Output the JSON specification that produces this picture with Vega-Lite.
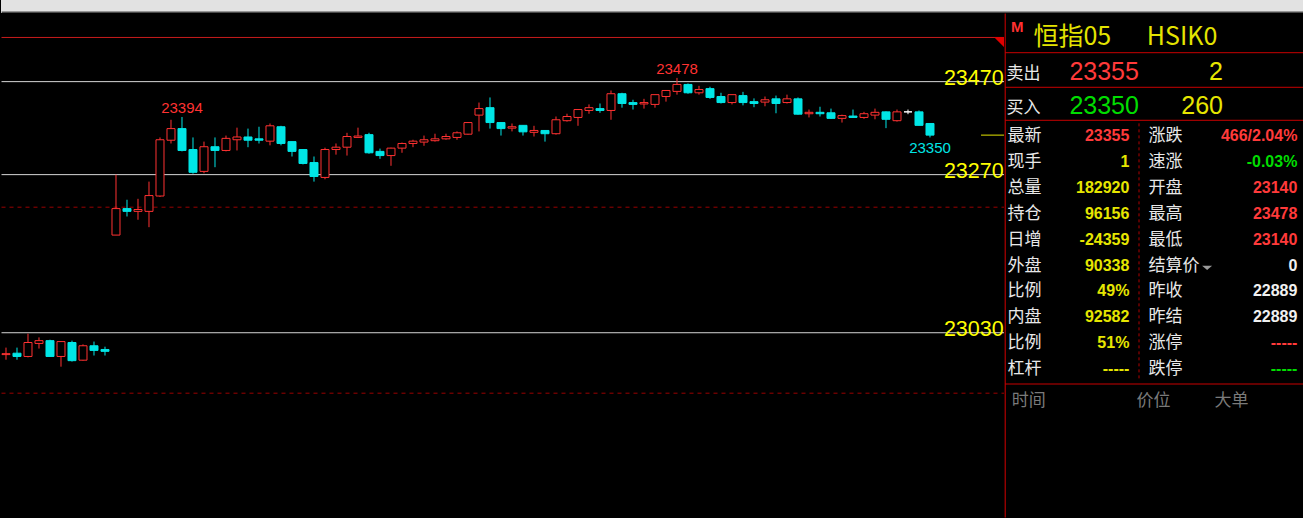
{
  "$schema": "https://vega.github.io/schema/vega-lite/v6.json",
  "background": "#000000",
  "padding": 0,
  "bounds": "flush",
  "spacing": 0,
  "config": {"view": {"stroke": null}, "concat": {"spacing": 0}},
  "datasets": {
    "candles": [
      {"i":0,"open":22883,"high":22898,"low":22872,"close":22885},
      {"i":1,"open":22886,"high":22898,"low":22872,"close":22879},
      {"i":2,"open":22879,"high":22928,"low":22877,"close":22909},
      {"i":3,"open":22907,"high":22920,"low":22896,"close":22913},
      {"i":4,"open":22913,"high":22915,"low":22878,"close":22879},
      {"i":5,"open":22879,"high":22912,"low":22857,"close":22911},
      {"i":6,"open":22909,"high":22913,"low":22868,"close":22870},
      {"i":7,"open":22871,"high":22905,"low":22870,"close":22902},
      {"i":8,"open":22902,"high":22911,"low":22881,"close":22892},
      {"i":9,"open":22894,"high":22900,"low":22881,"close":22890},
      {"i":10,"open":23140,"high":23270,"low":23140,"close":23197},
      {"i":11,"open":23197,"high":23216,"low":23180,"close":23191},
      {"i":12,"open":23191,"high":23218,"low":23173,"close":23195},
      {"i":13,"open":23191,"high":23255,"low":23157,"close":23225},
      {"i":14,"open":23224,"high":23350,"low":23222,"close":23345},
      {"i":15,"open":23344,"high":23388,"low":23337,"close":23369},
      {"i":16,"open":23369,"high":23394,"low":23320,"close":23322},
      {"i":17,"open":23324,"high":23350,"low":23272,"close":23275},
      {"i":18,"open":23277,"high":23341,"low":23273,"close":23330},
      {"i":19,"open":23330,"high":23350,"low":23286,"close":23322},
      {"i":20,"open":23322,"high":23354,"low":23320,"close":23348},
      {"i":21,"open":23345,"high":23371,"low":23322,"close":23351},
      {"i":22,"open":23351,"high":23369,"low":23329,"close":23344},
      {"i":23,"open":23347,"high":23373,"low":23337,"close":23344},
      {"i":24,"open":23342,"high":23380,"low":23333,"close":23375},
      {"i":25,"open":23373,"high":23375,"low":23333,"close":23337},
      {"i":26,"open":23341,"high":23341,"low":23309,"close":23320},
      {"i":27,"open":23324,"high":23324,"low":23292,"close":23294},
      {"i":28,"open":23296,"high":23309,"low":23255,"close":23266},
      {"i":29,"open":23264,"high":23328,"low":23260,"close":23324},
      {"i":30,"open":23324,"high":23337,"low":23313,"close":23329},
      {"i":31,"open":23329,"high":23360,"low":23311,"close":23352},
      {"i":32,"open":23350,"high":23371,"low":23350,"close":23353},
      {"i":33,"open":23356,"high":23360,"low":23315,"close":23317},
      {"i":34,"open":23320,"high":23326,"low":23304,"close":23311},
      {"i":35,"open":23311,"high":23328,"low":23289,"close":23327},
      {"i":36,"open":23327,"high":23339,"low":23317,"close":23337},
      {"i":37,"open":23337,"high":23345,"low":23329,"close":23342},
      {"i":38,"open":23340,"high":23354,"low":23332,"close":23345},
      {"i":39,"open":23343,"high":23358,"low":23341,"close":23347},
      {"i":40,"open":23347,"high":23358,"low":23345,"close":23352},
      {"i":41,"open":23350,"high":23363,"low":23345,"close":23360},
      {"i":42,"open":23357,"high":23383,"low":23356,"close":23382},
      {"i":43,"open":23398,"high":23425,"low":23363,"close":23412},
      {"i":44,"open":23414,"high":23436,"low":23369,"close":23382},
      {"i":45,"open":23382,"high":23382,"low":23354,"close":23369},
      {"i":46,"open":23370,"high":23380,"low":23363,"close":23373},
      {"i":47,"open":23376,"high":23376,"low":23354,"close":23362},
      {"i":48,"open":23361,"high":23375,"low":23352,"close":23365},
      {"i":49,"open":23365,"high":23365,"low":23341,"close":23358},
      {"i":50,"open":23358,"high":23395,"low":23356,"close":23388},
      {"i":51,"open":23386,"high":23401,"low":23384,"close":23395},
      {"i":52,"open":23393,"high":23410,"low":23375,"close":23410},
      {"i":53,"open":23408,"high":23421,"low":23401,"close":23414},
      {"i":54,"open":23412,"high":23423,"low":23403,"close":23408},
      {"i":55,"open":23408,"high":23451,"low":23388,"close":23444},
      {"i":56,"open":23444,"high":23446,"low":23414,"close":23423},
      {"i":57,"open":23425,"high":23431,"low":23410,"close":23421},
      {"i":58,"open":23422,"high":23433,"low":23412,"close":23425},
      {"i":59,"open":23421,"high":23442,"low":23414,"close":23442},
      {"i":60,"open":23438,"high":23451,"low":23427,"close":23451},
      {"i":61,"open":23449,"high":23478,"low":23442,"close":23464},
      {"i":62,"open":23464,"high":23466,"low":23444,"close":23446},
      {"i":63,"open":23446,"high":23461,"low":23442,"close":23453},
      {"i":64,"open":23455,"high":23459,"low":23433,"close":23436},
      {"i":65,"open":23438,"high":23446,"low":23423,"close":23425},
      {"i":66,"open":23425,"high":23442,"low":23421,"close":23442},
      {"i":67,"open":23440,"high":23448,"low":23419,"close":23425},
      {"i":68,"open":23427,"high":23434,"low":23415,"close":23423},
      {"i":69,"open":23426,"high":23438,"low":23417,"close":23431},
      {"i":70,"open":23433,"high":23440,"low":23402,"close":23423},
      {"i":71,"open":23425,"high":23442,"low":23423,"close":23433},
      {"i":72,"open":23433,"high":23436,"low":23399,"close":23400},
      {"i":73,"open":23401,"high":23410,"low":23393,"close":23404},
      {"i":74,"open":23404,"high":23416,"low":23395,"close":23401},
      {"i":75,"open":23403,"high":23412,"low":23390,"close":23391},
      {"i":76,"open":23391,"high":23399,"low":23382,"close":23397},
      {"i":77,"open":23396,"high":23410,"low":23393,"close":23393},
      {"i":78,"open":23393,"high":23405,"low":23390,"close":23401},
      {"i":79,"open":23398,"high":23412,"low":23389,"close":23404},
      {"i":80,"open":23405,"high":23406,"low":23370,"close":23389},
      {"i":81,"open":23386,"high":23410,"low":23384,"close":23405},
      {"i":82,"open":23405,"high":23410,"low":23400,"close":23405},
      {"i":83,"open":23405,"high":23408,"low":23376,"close":23376},
      {"i":84,"open":23380,"high":23380,"low":23350,"close":23355}
    ],
    "quote": [
      {"row":0,"lLabel":"最新","lValue":"23355","lKind":"up","rLabel":"涨跌","rValue":"466/2.04%","rKind":"up"},
      {"row":1,"lLabel":"现手","lValue":"1","lKind":"qty","rLabel":"速涨","rValue":"-0.03%","rKind":"down"},
      {"row":2,"lLabel":"总量","lValue":"182920","lKind":"qty","rLabel":"开盘","rValue":"23140","rKind":"up"},
      {"row":3,"lLabel":"持仓","lValue":"96156","lKind":"qty","rLabel":"最高","rValue":"23478","rKind":"up"},
      {"row":4,"lLabel":"日增","lValue":"-24359","lKind":"qty","rLabel":"最低","rValue":"23140","rKind":"up"},
      {"row":5,"lLabel":"外盘","lValue":"90338","lKind":"qty","rLabel":"结算价","rValue":"0","rKind":"flat"},
      {"row":6,"lLabel":"比例","lValue":"49%","lKind":"qty","rLabel":"昨收","rValue":"22889","rKind":"flat"},
      {"row":7,"lLabel":"内盘","lValue":"92582","lKind":"qty","rLabel":"昨结","rValue":"22889","rKind":"flat"},
      {"row":8,"lLabel":"比例","lValue":"51%","lKind":"qty","rLabel":"涨停","rValue":"-----","rKind":"up"},
      {"row":9,"lLabel":"杠杆","lValue":"-----","lKind":"qty","rLabel":"跌停","rValue":"-----","rKind":"down"}
    ]
  },
  "vconcat": [
    {
      "width": 1303,
      "height": 13,
      "view": {"fill": "#e2e2e2", "stroke": null},
      "data": {"values": [{"part": "toolbar border"}]},
      "mark": {"type": "rule", "color": "#4a4a4a", "strokeWidth": 1.5},
      "encoding": {
        "y": {"datum": 0.06, "type": "quantitative", "scale": {"domain": [0, 1], "nice": false}, "axis": null},
        "x": {"datum": 0.05, "type": "quantitative", "scale": {"domain": [0, 100], "nice": false}, "axis": null},
        "x2": {"datum": 99.95}
      }
    },
    {
      "spacing": 0,
      "bounds": "flush",
      "hconcat": [
        {
          "width": 1003,
          "height": 505,
          "layer": [
            {
              "data": {"values": [{"line": "top border", "price": 23565}]},
              "mark": {"type": "rule", "color": "#c81c1c", "strokeWidth": 1},
              "encoding": {
                "x": {"datum": -0.409, "type": "quantitative", "scale": {"domain": [-0.4545, 90.7273], "nice": false, "zero": false, "padding": 0}, "axis": null},
                "x2": {"datum": 90.7273},
                "y": {"field": "price", "type": "quantitative", "scale": {"domain": [22531.6, 23617.6], "nice": false, "zero": false}, "axis": null}
              }
            },
            {
              "data": {"values": [{"price": 23200}, {"price": 22800}]},
              "mark": {"type": "rule", "color": "#9a0000", "strokeWidth": 1, "strokeDash": [4, 4]},
              "encoding": {
                "x": {"datum": -0.409, "type": "quantitative", "scale": {"domain": [-0.4545, 90.7273], "nice": false, "zero": false, "padding": 0}, "axis": null},
                "x2": {"datum": 90.7273},
                "y": {"field": "price", "type": "quantitative", "scale": {"domain": [22531.6, 23617.6], "nice": false, "zero": false}, "axis": null}
              }
            },
            {
              "data": {"values": [{"price": 23470, "label": "23470"}, {"price": 23270, "label": "23270"}, {"price": 22930, "label": "23030"}]},
              "mark": {"type": "rule", "color": "#d6d6d6", "strokeWidth": 1},
              "encoding": {
                "x": {"datum": -0.409, "type": "quantitative", "scale": {"domain": [-0.4545, 90.7273], "nice": false, "zero": false, "padding": 0}, "axis": null},
                "x2": {"datum": 90.7273},
                "y": {"field": "price", "type": "quantitative", "scale": {"domain": [22531.6, 23617.6], "nice": false, "zero": false}, "axis": null}
              }
            },
            {
              "data": {"values": [{"price": 23470, "label": "23470"}, {"price": 23270, "label": "23270"}, {"price": 22930, "label": "23030"}]},
              "mark": {"type": "text", "align": "right", "baseline": "middle", "dy": -3, "font": "Liberation Sans", "fontSize": 21.5, "color": "#ffff00"},
              "encoding": {
                "x": {"datum": 90.7, "type": "quantitative", "scale": {"domain": [-0.4545, 90.7273], "nice": false, "zero": false, "padding": 0}, "axis": null},
                "y": {"field": "price", "type": "quantitative", "scale": {"domain": [22531.6, 23617.6], "nice": false, "zero": false}, "axis": null},
                "text": {"field": "label"}
              }
            },
            {
              "data": {"values": [{"last": 23355}]},
              "mark": {"type": "rule", "color": "#e6e600", "strokeWidth": 1},
              "encoding": {
                "x": {"datum": 88.64, "type": "quantitative", "scale": {"domain": [-0.4545, 90.7273], "nice": false, "zero": false, "padding": 0}, "axis": null},
                "x2": {"datum": 90.7273},
                "y": {"field": "last", "type": "quantitative", "scale": {"domain": [22531.6, 23617.6], "nice": false, "zero": false}, "axis": null}
              }
            },
            {
              "data": {"values": [{"marker": "corner"}]},
              "mark": {"type": "point", "shape": "M-1,-1L1,-1L1,1Z", "filled": true, "size": 100, "color": "#e00000", "opacity": 1},
              "encoding": {
                "x": {"datum": 90.27, "type": "quantitative", "scale": {"domain": [-0.4545, 90.7273], "nice": false, "zero": false, "padding": 0}, "axis": null},
                "y": {"datum": 23555, "type": "quantitative", "scale": {"domain": [22531.6, 23617.6], "nice": false, "zero": false}, "axis": null}
              }
            },
            {
              "data": {"name": "candles"},
              "mark": {"type": "rule", "strokeWidth": 1},
              "encoding": {
                "x": {"field": "i", "type": "quantitative", "scale": {"domain": [-0.4545, 90.7273], "nice": false, "zero": false, "padding": 0}, "axis": null},
                "y": {"field": "low", "type": "quantitative", "scale": {"domain": [22531.6, 23617.6], "nice": false, "zero": false}, "axis": null},
                "y2": {"field": "high"},
                "color": {"condition": [{"test": "datum.close > datum.open", "value": "#ff3232"}, {"test": "datum.close < datum.open", "value": "#00e6e6"}], "value": "#ffffff"}
              }
            },
            {
              "data": {"name": "candles"},
              "mark": {"type": "bar", "size": 8, "strokeWidth": 1},
              "encoding": {
                "x": {"field": "i", "type": "quantitative", "scale": {"domain": [-0.4545, 90.7273], "nice": false, "zero": false, "padding": 0}, "axis": null},
                "y": {"field": "open", "type": "quantitative", "scale": {"domain": [22531.6, 23617.6], "nice": false, "zero": false}, "axis": null},
                "y2": {"field": "close"},
                "fill": {"condition": [{"test": "datum.close > datum.open", "value": "#000000"}, {"test": "datum.close < datum.open", "value": "#00e6e6"}], "value": "#ffffff"},
                "stroke": {"condition": [{"test": "datum.close > datum.open", "value": "#ff3232"}, {"test": "datum.close < datum.open", "value": "#00e6e6"}], "value": "#ffffff"}
              }
            },
            {
              "data": {"values": [{"i": 16, "price": 23394, "text": "23394"}, {"i": 61, "price": 23478, "text": "23478"}]},
              "mark": {"type": "text", "align": "center", "baseline": "alphabetic", "dy": -4, "font": "Liberation Sans", "fontSize": 15, "color": "#ff3232"},
              "encoding": {
                "x": {"field": "i", "type": "quantitative", "scale": {"domain": [-0.4545, 90.7273], "nice": false, "zero": false, "padding": 0}, "axis": null},
                "y": {"field": "price", "type": "quantitative", "scale": {"domain": [22531.6, 23617.6], "nice": false, "zero": false}, "axis": null},
                "text": {"field": "text"}
              }
            },
            {
              "data": {"values": [{"i": 84, "price": 23350, "text": "23350"}]},
              "mark": {"type": "text", "align": "center", "baseline": "alphabetic", "dy": 16, "font": "Liberation Sans", "fontSize": 15, "color": "#00e6e6"},
              "encoding": {
                "x": {"field": "i", "type": "quantitative", "scale": {"domain": [-0.4545, 90.7273], "nice": false, "zero": false, "padding": 0}, "axis": null},
                "y": {"field": "price", "type": "quantitative", "scale": {"domain": [22531.6, 23617.6], "nice": false, "zero": false}, "axis": null},
                "text": {"field": "text"}
              }
            }
          ]
        },
        {
          "width": 300,
          "height": 505,
          "layer": [
            {
              "data": {"values": [{"edge": "left"}]},
              "mark": {"type": "rule", "color": "#d40000", "strokeWidth": 1},
              "encoding": {
                "x": {"datum": 0.4, "type": "quantitative", "scale": {"domain": [0, 100], "nice": false, "zero": false}, "axis": null},
                "y": {"datum": -4.69, "type": "quantitative", "scale": {"domain": [-4.7104, 14.7876], "nice": false, "zero": false, "reverse": true}, "axis": null},
                "y2": {"datum": 14.77}
              }
            },
            {
              "data": {"values": [{"after": "title", "row": -3.178}, {"after": "sell", "row": -1.842}, {"after": "buy", "row": -0.568}, {"after": "table", "row": 9.614}]},
              "mark": {"type": "rule", "color": "#c80000", "strokeWidth": 1},
              "encoding": {
                "x": {"datum": 0.4, "type": "quantitative", "scale": {"domain": [0, 100], "nice": false, "zero": false}, "axis": null},
                "x2": {"datum": 99.8},
                "y": {"field": "row", "type": "quantitative", "scale": {"domain": [-4.7104, 14.7876], "nice": false, "zero": false, "reverse": true}, "axis": null}
              }
            },
            {
              "data": {"values": [{"divider": "columns"}]},
              "mark": {"type": "rule", "color": "#b00000", "strokeWidth": 1, "strokeDash": [3, 3]},
              "encoding": {
                "x": {"datum": 45, "type": "quantitative", "scale": {"domain": [0, 100], "nice": false, "zero": false}, "axis": null},
                "y": {"datum": -0.45, "type": "quantitative", "scale": {"domain": [-4.7104, 14.7876], "nice": false, "zero": false, "reverse": true}, "axis": null},
                "y2": {"datum": 9.5}
              }
            },
            {
              "data": {"values": [{"text": "M"}]},
              "mark": {"type": "text", "align": "left", "baseline": "middle", "dy": 1, "font": "Liberation Sans", "fontWeight": "bold", "fontSize": 15, "color": "#ff3030"},
              "encoding": {
                "x": {"datum": 2.33, "type": "quantitative", "scale": {"domain": [0, 100], "nice": false, "zero": false}, "axis": null},
                "y": {"datum": -4.2, "type": "quantitative", "scale": {"domain": [-4.7104, 14.7876], "nice": false, "zero": false, "reverse": true}, "axis": null},
                "text": {"field": "text"}
              }
            },
            {
              "data": {"values": [{"name": "恒指05", "code": "HSIK0"}]},
              "mark": {"type": "text", "align": "left", "baseline": "middle", "dy": 1, "font": "Noto Sans CJK SC", "fontSize": 25, "color": "#e4e400"},
              "encoding": {
                "x": {"datum": 9.8, "type": "quantitative", "scale": {"domain": [0, 100], "nice": false, "zero": false}, "axis": null},
                "y": {"datum": -3.82, "type": "quantitative", "scale": {"domain": [-4.7104, 14.7876], "nice": false, "zero": false, "reverse": true}, "axis": null},
                "text": {"field": "name"}
              }
            },
            {
              "data": {"values": [{"name": "恒指05", "code": "HSIK0"}]},
              "mark": {"type": "text", "align": "left", "baseline": "middle", "dy": 1, "font": "Noto Sans CJK SC", "fontSize": 25, "color": "#e4e400"},
              "encoding": {
                "x": {"datum": 47.6, "type": "quantitative", "scale": {"domain": [0, 100], "nice": false, "zero": false}, "axis": null},
                "y": {"datum": -3.82, "type": "quantitative", "scale": {"domain": [-4.7104, 14.7876], "nice": false, "zero": false, "reverse": true}, "axis": null},
                "text": {"field": "code"}
              }
            },
            {
              "data": {"values": [{"row": -2.43, "side": "卖出", "price": "23355", "qty": "2", "kind": "up"}, {"row": -1.13, "side": "买入", "price": "23350", "qty": "260", "kind": "down"}]},
              "mark": {"type": "text", "align": "left", "baseline": "middle", "dy": 2, "font": "Noto Sans CJK SC", "fontSize": 17, "color": "#e8e8e8"},
              "encoding": {
                "x": {"datum": 0.85, "type": "quantitative", "scale": {"domain": [0, 100], "nice": false, "zero": false}, "axis": null},
                "y": {"field": "row", "type": "quantitative", "scale": {"domain": [-4.7104, 14.7876], "nice": false, "zero": false, "reverse": true}, "axis": null},
                "text": {"field": "side"}
              }
            },
            {
              "data": {"values": [{"row": -2.43, "side": "卖出", "price": "23355", "qty": "2", "kind": "up"}, {"row": -1.13, "side": "买入", "price": "23350", "qty": "260", "kind": "down"}]},
              "mark": {"type": "text", "align": "left", "baseline": "middle", "dy": 0, "font": "Liberation Sans", "fontSize": 25},
              "encoding": {
                "x": {"datum": 21.8, "type": "quantitative", "scale": {"domain": [0, 100], "nice": false, "zero": false}, "axis": null},
                "y": {"field": "row", "type": "quantitative", "scale": {"domain": [-4.7104, 14.7876], "nice": false, "zero": false, "reverse": true}, "axis": null},
                "text": {"field": "price"},
                "color": {"field": "kind", "type": "nominal", "scale": {"domain": ["up", "down", "qty", "flat"], "range": ["#ff3a3a", "#00dd00", "#e6e600", "#f0f0f0"]}, "legend": null}
              }
            },
            {
              "data": {"values": [{"row": -2.43, "side": "卖出", "price": "23355", "qty": "2", "kind": "up"}, {"row": -1.13, "side": "买入", "price": "23350", "qty": "260", "kind": "down"}]},
              "mark": {"type": "text", "align": "right", "baseline": "middle", "dy": 0, "font": "Liberation Sans", "fontSize": 25, "color": "#e6e600"},
              "encoding": {
                "x": {"datum": 73, "type": "quantitative", "scale": {"domain": [0, 100], "nice": false, "zero": false}, "axis": null},
                "y": {"field": "row", "type": "quantitative", "scale": {"domain": [-4.7104, 14.7876], "nice": false, "zero": false, "reverse": true}, "axis": null},
                "text": {"field": "qty"}
              }
            },
            {
              "data": {"name": "quote"},
              "mark": {"type": "text", "align": "left", "baseline": "middle", "dy": 1, "font": "Noto Sans CJK SC", "fontSize": 17, "color": "#e8e8e8"},
              "encoding": {
                "x": {"datum": 1.2, "type": "quantitative", "scale": {"domain": [0, 100], "nice": false, "zero": false}, "axis": null},
                "y": {"field": "row", "type": "quantitative", "scale": {"domain": [-4.7104, 14.7876], "nice": false, "zero": false, "reverse": true}, "axis": null},
                "text": {"field": "lLabel"}
              }
            },
            {
              "data": {"name": "quote"},
              "mark": {"type": "text", "align": "right", "baseline": "middle", "dy": 1, "font": "Liberation Sans", "fontWeight": "bold", "fontSize": 16},
              "encoding": {
                "x": {"datum": 41.8, "type": "quantitative", "scale": {"domain": [0, 100], "nice": false, "zero": false}, "axis": null},
                "y": {"field": "row", "type": "quantitative", "scale": {"domain": [-4.7104, 14.7876], "nice": false, "zero": false, "reverse": true}, "axis": null},
                "text": {"field": "lValue"},
                "color": {"field": "lKind", "type": "nominal", "scale": {"domain": ["up", "down", "qty", "flat"], "range": ["#ff3a3a", "#00dd00", "#e6e600", "#f0f0f0"]}, "legend": null}
              }
            },
            {
              "data": {"name": "quote"},
              "mark": {"type": "text", "align": "left", "baseline": "middle", "dy": 1, "font": "Noto Sans CJK SC", "fontSize": 17, "color": "#e8e8e8"},
              "encoding": {
                "x": {"datum": 48.2, "type": "quantitative", "scale": {"domain": [0, 100], "nice": false, "zero": false}, "axis": null},
                "y": {"field": "row", "type": "quantitative", "scale": {"domain": [-4.7104, 14.7876], "nice": false, "zero": false, "reverse": true}, "axis": null},
                "text": {"field": "rLabel"}
              }
            },
            {
              "data": {"name": "quote"},
              "mark": {"type": "text", "align": "right", "baseline": "middle", "dy": 1, "font": "Liberation Sans", "fontWeight": "bold", "fontSize": 16},
              "encoding": {
                "x": {"datum": 97.8, "type": "quantitative", "scale": {"domain": [0, 100], "nice": false, "zero": false}, "axis": null},
                "y": {"field": "row", "type": "quantitative", "scale": {"domain": [-4.7104, 14.7876], "nice": false, "zero": false, "reverse": true}, "axis": null},
                "text": {"field": "rValue"},
                "color": {"field": "rKind", "type": "nominal", "scale": {"domain": ["up", "down", "qty", "flat"], "range": ["#ff3a3a", "#00dd00", "#e6e600", "#f0f0f0"]}, "legend": null}
              }
            },
            {
              "data": {"values": [{"menu": "结算价"}]},
              "mark": {"type": "point", "shape": "M-1,-0.43L1,-0.43L0,0.43Z", "size": 100, "filled": true, "opacity": 1, "color": "#9a9a9a"},
              "encoding": {
                "x": {"datum": 67.7, "type": "quantitative", "scale": {"domain": [0, 100], "nice": false, "zero": false}, "axis": null},
                "y": {"datum": 5.13, "type": "quantitative", "scale": {"domain": [-4.7104, 14.7876], "nice": false, "zero": false, "reverse": true}, "axis": null}
              }
            },
            {
              "data": {"values": [{"col": 2.6, "text": "时间"}, {"col": 44.2, "text": "价位"}, {"col": 70.2, "text": "大单"}]},
              "mark": {"type": "text", "align": "left", "baseline": "middle", "dy": 1, "font": "Noto Sans CJK SC", "fontSize": 17, "color": "#7a7a7a"},
              "encoding": {
                "x": {"field": "col", "type": "quantitative", "scale": {"domain": [0, 100], "nice": false, "zero": false}, "axis": null},
                "y": {"datum": 10.25, "type": "quantitative", "scale": {"domain": [-4.7104, 14.7876], "nice": false, "zero": false, "reverse": true}, "axis": null},
                "text": {"field": "text"}
              }
            }
          ]
        }
      ]
    }
  ]
}
